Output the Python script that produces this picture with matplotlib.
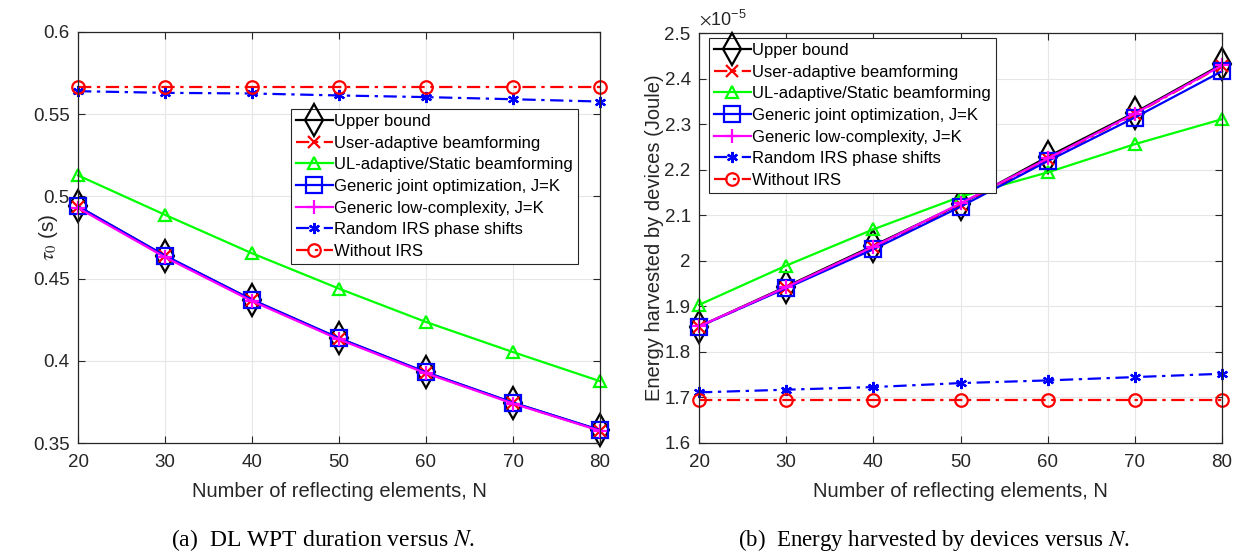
import matplotlib
matplotlib.use("Agg")
import matplotlib.pyplot as plt
from matplotlib.ticker import FuncFormatter

# number of reflecting elements
N = [20, 30, 40, 50, 60, 70, 80]

# (a) DL WPT duration tau_0 (s)
tau_upper = [0.4939, 0.4638, 0.4370, 0.4136, 0.3929, 0.3744, 0.3577]
tau_user = [0.4935, 0.4635, 0.4368, 0.4134, 0.3927, 0.3742, 0.3576]
tau_ul = [0.5128, 0.4888, 0.4654, 0.4439, 0.4236, 0.4053, 0.3876]
tau_joint = [0.4940, 0.4640, 0.4372, 0.4138, 0.3931, 0.3746, 0.3579]
tau_lowc = [0.4930, 0.4630, 0.4363, 0.4130, 0.3924, 0.3740, 0.3574]
tau_random = [0.5640, 0.5630, 0.5626, 0.5614, 0.5604, 0.5591, 0.5577]
tau_noirs = [0.5667, 0.5667, 0.5667, 0.5667, 0.5667, 0.5667, 0.5667]

# (b) energy harvested by devices (x 1e-5 Joule)
e_upper = [1.8557, 1.9434, 2.0332, 2.1245, 2.2283, 2.3254, 2.4313]
e_user = [1.8550, 1.9410, 2.0300, 2.1220, 2.2230, 2.3220, 2.4280]
e_ul = [1.9032, 1.9894, 2.0690, 2.1406, 2.1940, 2.2560, 2.3108]
e_joint = [1.8557, 1.9397, 2.0252, 2.1187, 2.2188, 2.3145, 2.4160]
e_lowc = [1.8560, 1.9420, 2.0310, 2.1260, 2.2246, 2.3232, 2.4290]
e_random = [1.7111, 1.7170, 1.7228, 1.7315, 1.7374, 1.7447, 1.7520]
e_noirs = [1.6936, 1.6936, 1.6936, 1.6936, 1.6936, 1.6936, 1.6936]

labels = ["Upper bound", "User-adaptive beamforming",
          "UL-adaptive/Static beamforming", "Generic joint optimization, J=K",
          "Generic low-complexity, J=K", "Random IRS phase shifts",
          "Without IRS"]

dashdot = (0, (6, 2.5, 1.5, 2.5))
styles = [
    dict(color="black", ls="-", marker="d", ms=16, mfc="none"),
    dict(color="red", ls=dashdot, marker="x", ms=9),
    dict(color="#00ff00", ls="-", marker="^", ms=9, mfc="none"),
    dict(color="blue", ls="-", marker="s", ms=11, mfc="none"),
    dict(color="magenta", ls="-", marker="+", ms=10),
    dict(color="blue", ls=dashdot, marker=(6, 2, 0), ms=8),
    dict(color="red", ls=dashdot, marker="o", ms=9, mfc="none"),
]

plt.rcParams["font.family"] = ["Liberation Sans", "DejaVu Sans"]
plt.rcParams["mathtext.fontset"] = "stix"
plt.rcParams["font.size"] = 13

fig = plt.figure(figsize=(12.33, 5.6), dpi=100)
W, H = 1233.0, 560.0
ax1 = fig.add_axes([78 / W, 117 / H, 522 / W, 411 / H])
ax2 = fig.add_axes([699 / W, 117 / H, 523 / W, 410 / H])

gray = "#262626"


def style_axes(ax):
    ax.grid(True, color="#e6e6e6", lw=0.8)
    ax.set_axisbelow(True)
    ax.tick_params(direction="in", top=True, right=True, length=5,
                   colors=gray, labelsize=13.5, pad=6)
    ax.tick_params(axis="x", pad=8)
    for s in ax.spines.values():
        s.set_color(gray)
        s.set_linewidth(0.9)
    ax.set_xlim(20, 80)
    ax.set_xticks(N)
    ax.set_xlabel("Number of reflecting elements, N", fontsize=14.5, color=gray)
    ax.xaxis.set_label_coords(0.5, -0.095)
    ax.yaxis.set_major_formatter(FuncFormatter(lambda v, p: "%g" % round(v, 3)))


series1 = [tau_upper, tau_user, tau_ul, tau_joint, tau_lowc, tau_random, tau_noirs]
series2 = [e_upper, e_user, e_ul, e_joint, e_lowc, e_random, e_noirs]

for y, lab, st in zip(series1, labels, styles):
    ax1.plot(N, y, lw=1.6, mew=1.6, label=lab, clip_on=False, **st)
for y, lab, st in zip(series2, labels, styles):
    ax2.plot(N, y, lw=1.6, mew=1.6, label=lab, clip_on=False, **st)

style_axes(ax1)
ax1.set_ylim(0.35, 0.6)
ax1.set_yticks([0.35, 0.4, 0.45, 0.5, 0.55, 0.6])
ax1.set_ylabel(r"$\tau_0$ (s)", fontsize=15, color=gray)
ax1.yaxis.set_label_coords(-0.035, 0.5)

style_axes(ax2)
ax2.set_ylim(1.6, 2.5)
ax2.set_yticks([1.6, 1.7, 1.8, 1.9, 2.0, 2.1, 2.2, 2.3, 2.4, 2.5])
ax2.set_ylabel("Energy harvested by devices (Joule)", fontsize=14.5, color=gray)
ax2.yaxis.set_label_coords(-0.066, 0.5)
ax2.text(0.0, 1.012, r"$\times\mathregular{10^{-5}}$", transform=ax2.transAxes,
         fontsize=13, color=gray, ha="left", va="bottom")

leg_kw = dict(fontsize=12, fancybox=False, framealpha=1, edgecolor=gray,
              handlelength=2.2, handletextpad=0.1, labelspacing=0.4,
              borderpad=0.3, borderaxespad=0)
leg1 = ax1.legend(loc="upper right", bbox_to_anchor=(0.958, 0.813), **leg_kw)
leg2 = ax2.legend(loc="upper left", bbox_to_anchor=(0.019, 0.988), **leg_kw)
for lg in (leg1, leg2):
    lg.get_frame().set_linewidth(0.8)
    lg.set_zorder(5)

fig.text(323 / W, 1 - 540 / H, r"(a)  DL WPT duration versus $N$.",
         family="Liberation Serif", fontsize=17, ha="center", va="center")
fig.text(934 / W, 1 - 540 / H, r"(b)  Energy harvested by devices versus $N$.",
         family="Liberation Serif", fontsize=16.5, ha="center", va="center")

fig.savefig("out.png", dpi=100)
